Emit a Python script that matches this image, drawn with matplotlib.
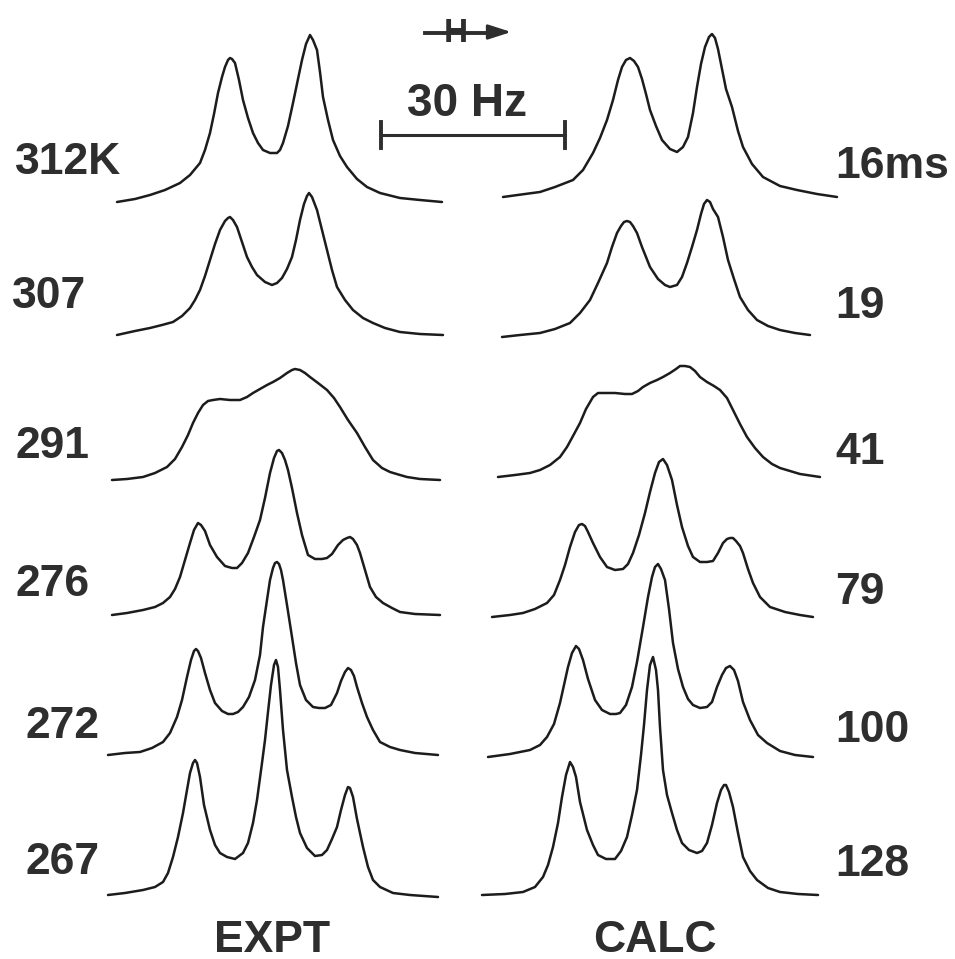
import numpy as np
import matplotlib
matplotlib.use('Agg')
import matplotlib.pyplot as plt

plt.rcParams['font.family'] = ['Liberation Sans', 'DejaVu Sans']

# labels for each trace (top to bottom)
expt_labels = ['312K', '307', '291', '276', '272', '267']
calc_labels = ['16ms', '19', '41', '79', '100', '128']

# traces: shift (arbitrary units, left to right) and intensity above baseline
expt_shift = [
    [7, 25, 40, 55, 70, 80, 90, 95, 100, 104, 108, 112, 115, 118, 120, 122, 125, 129, 133, 138, 143, 148, 153, 160, 167, 170, 173, 178, 183, 188, 192, 196, 200, 203, 207, 210, 213, 218, 223, 230, 237, 247, 257, 270, 290, 310, 332],
    [7, 25, 40, 52, 63, 72, 80, 85, 90, 95, 100, 105, 110, 115, 118, 120, 123, 127, 132, 137, 142, 147, 155, 162, 167, 172, 177, 182, 186, 190, 194, 197, 199, 202, 207, 212, 217, 222, 227, 235, 243, 253, 263, 275, 290, 310, 333],
    [2, 17, 33, 45, 57, 65, 72, 78, 83, 88, 93, 98, 103, 110, 120, 130, 137, 143, 150, 157, 163, 170, 177, 182, 185, 190, 195, 200, 208, 217, 224, 230, 238, 247, 255, 263, 272, 280, 290, 297, 310, 330],
    [2, 17, 33, 45, 53, 60, 65, 70, 75, 80, 84, 88, 91, 95, 100, 107, 115, 122, 127, 132, 138, 144, 150, 155, 160, 164, 167, 169, 172, 175, 178, 182, 187, 192, 198, 205, 212, 217, 222, 228, 233, 237, 240, 243, 247, 250, 255, 260, 266, 273, 282, 290, 305, 330],
    [-2, 15, 30, 42, 53, 60, 67, 72, 77, 81, 84, 86, 88, 91, 95, 100, 105, 112, 118, 123, 128, 133, 139, 145, 150, 153, 157, 160, 163, 165, 167, 169, 171, 173, 177, 182, 186, 190, 196, 203, 209, 215, 221, 227, 231, 235, 238, 241, 244, 247, 252, 257, 263, 270, 280, 290, 305, 328],
    [-2, 15, 33, 45, 53, 58, 63, 68, 73, 77, 80, 83, 85, 87, 90, 94, 100, 105, 110, 117, 125, 133, 138, 143, 147, 152, 155, 158, 161, 164, 166, 168, 170, 173, 177, 182, 186, 190, 197, 205, 212, 217, 222, 227, 231, 235, 238, 240, 243, 247, 253, 258, 263, 270, 283, 300, 328],
]
expt_int = [
    [0, 3, 7, 12, 19, 27, 39, 52, 69, 88, 109, 125, 135, 142, 144, 143, 139, 122, 102, 84, 69, 59, 52, 49, 49, 52, 59, 76, 99, 123, 142, 158, 167, 162, 152, 130, 105, 82, 62, 46, 35, 23, 15, 9, 4, 2, 0],
    [0, 4, 7, 10, 13, 19, 27, 35, 45, 59, 75, 91, 105, 114, 117, 118, 115, 108, 93, 78, 68, 60, 53, 50, 52, 57, 66, 78, 95, 115, 131, 139, 142, 138, 125, 105, 85, 65, 48, 35, 25, 17, 12, 7, 3, 1, 0],
    [0, 1, 3, 7, 13, 21, 33, 45, 57, 67, 75, 79, 80, 81, 80, 80, 83, 87, 91, 95, 98, 102, 107, 110, 111, 110, 107, 103, 97, 90, 82, 73, 60, 47, 33, 20, 12, 8, 5, 3, 1, 0],
    [0, 2, 5, 8, 12, 18, 26, 38, 55, 72, 85, 92, 90, 84, 70, 58, 49, 47, 47, 52, 62, 78, 95, 117, 142, 157, 164, 165, 162, 155, 145, 127, 102, 80, 60, 56, 56, 57, 61, 70, 75, 77, 78, 76, 70, 62, 45, 28, 18, 12, 7, 3, 1, 0],
    [0, 2, 3, 7, 13, 22, 38, 55, 78, 95, 104, 106, 104, 97, 82, 65, 52, 44, 41, 41, 43, 48, 58, 75, 100, 128, 155, 175, 187, 192, 193, 191, 185, 175, 150, 118, 92, 70, 55, 48, 47, 47, 50, 62, 74, 83, 87, 85, 79, 68, 52, 38, 25, 13, 8, 5, 2, 0],
    [0, 2, 5, 8, 13, 22, 38, 58, 82, 105, 122, 132, 135, 132, 118, 90, 65, 50, 42, 38, 36, 42, 52, 72, 95, 132, 155, 183, 210, 230, 235, 228, 205, 165, 125, 98, 78, 62, 47, 39, 40, 45, 56, 68, 85, 100, 108, 107, 98, 76, 48, 28, 15, 8, 2, 0, -2],
]
calc_shift = [
    [23, 45, 60, 75, 93, 103, 113, 120, 127, 133, 138, 142, 146, 150, 154, 158, 162, 166, 170, 176, 182, 190, 197, 203, 208, 213, 217, 221, 225, 229, 232, 235, 238, 242, 246, 252, 258, 263, 272, 283, 300, 317, 337, 357],
    [22, 40, 60, 75, 90, 100, 110, 118, 127, 132, 137, 141, 144, 147, 150, 153, 157, 162, 170, 178, 185, 190, 197, 202, 207, 212, 217, 221, 224, 227, 230, 233, 238, 243, 248, 254, 260, 268, 277, 288, 300, 315, 330],
    [18, 35, 50, 60, 70, 80, 87, 93, 100, 106, 113, 118, 125, 135, 145, 152, 158, 163, 170, 177, 183, 190, 196, 200, 205, 210, 215, 220, 227, 234, 240, 247, 253, 260, 267, 275, 283, 292, 300, 320, 340],
    [12, 30, 43, 55, 67, 74, 80, 85, 90, 95, 99, 102, 105, 108, 113, 120, 127, 135, 143, 148, 153, 159, 165, 170, 175, 179, 183, 187, 192, 197, 202, 208, 213, 220, 227, 233, 238, 243, 247, 250, 253, 256, 260, 263, 268, 273, 280, 290, 305, 320, 333],
    [8, 30, 50, 60, 67, 74, 80, 84, 88, 92, 96, 99, 103, 108, 115, 122, 130, 136, 140, 146, 152, 157, 163, 168, 172, 175, 178, 181, 185, 189, 193, 198, 203, 208, 213, 220, 227, 232, 237, 242, 246, 250, 254, 258, 263, 270, 278, 287, 300, 315, 333],
    [2, 25, 43, 55, 63, 68, 73, 78, 82, 86, 90, 93, 96, 100, 107, 113, 118, 126, 135, 141, 147, 152, 157, 161, 164, 167, 170, 173, 176, 178, 180, 183, 187, 192, 197, 202, 209, 217, 222, 227, 232, 237, 241, 244, 246, 249, 253, 258, 263, 270, 277, 288, 300, 318, 338],
]
calc_int = [
    [0, 3, 5, 10, 17, 27, 44, 59, 77, 97, 117, 130, 137, 139, 136, 130, 118, 103, 87, 71, 57, 48, 45, 50, 60, 84, 110, 133, 150, 160, 163, 159, 148, 128, 108, 90, 66, 50, 33, 20, 11, 7, 3, 0],
    [0, 2, 4, 8, 14, 24, 37, 54, 74, 90, 104, 111, 115, 116, 115, 111, 104, 90, 70, 58, 52, 50, 52, 60, 74, 90, 107, 123, 133, 137, 135, 128, 120, 100, 77, 58, 40, 27, 17, 11, 7, 4, 2],
    [0, 2, 4, 7, 12, 20, 30, 41, 54, 68, 80, 84, 84, 84, 83, 83, 86, 90, 94, 97, 100, 104, 108, 111, 111, 110, 106, 100, 95, 91, 87, 79, 67, 53, 40, 29, 20, 13, 9, 3, 0],
    [0, 2, 4, 8, 14, 22, 37, 52, 70, 85, 92, 93, 91, 85, 74, 60, 50, 47, 48, 53, 64, 82, 104, 125, 144, 155, 158, 152, 137, 112, 90, 71, 60, 55, 55, 56, 64, 74, 78, 79, 79, 76, 71, 64, 48, 34, 20, 10, 5, 2, 0],
    [0, 3, 7, 12, 20, 33, 54, 72, 90, 104, 111, 108, 97, 78, 57, 47, 43, 43, 44, 52, 70, 95, 130, 160, 180, 190, 193, 188, 177, 148, 114, 88, 70, 58, 52, 49, 50, 55, 70, 82, 89, 91, 87, 76, 55, 37, 22, 14, 6, 2, 0],
    [0, 1, 3, 8, 18, 30, 48, 72, 98, 120, 133, 128, 118, 93, 65, 50, 40, 36, 36, 44, 58, 80, 105, 140, 170, 205, 230, 238, 225, 205, 168, 125, 100, 82, 65, 52, 45, 42, 44, 52, 70, 92, 105, 110, 110, 103, 88, 62, 38, 24, 15, 7, 3, 1, 0],
]

# layout (figure pixels)
expt_x0 = 110
calc_x0 = 480
expt_base = [202, 335, 480, 615, 755, 895]
calc_base = [197, 337, 477, 617, 757, 895]
expt_lab_x = [15, 12, 15, 15, 25, 25]
expt_lab_y = [163, 297, 447, 585, 727, 863]
calc_lab_y = [167, 307, 452, 592, 730, 865]

line_col = '#1c1c1c'
txt_col = '#2e2e2e'

fig = plt.figure(figsize=(9.55, 9.59), dpi=100)
ax = fig.add_axes([0, 0, 1, 1])
ax.set_xlim(0, 955)
ax.set_ylim(959, 0)
ax.axis('off')

for i in range(6):
    x = expt_x0 + np.array(expt_shift[i])
    y = expt_base[i] - np.array(expt_int[i])
    ax.plot(x, y, color=line_col, lw=1.8, solid_joinstyle='round', solid_capstyle='round')
    x = calc_x0 + np.array(calc_shift[i])
    y = calc_base[i] - np.array(calc_int[i])
    ax.plot(x, y, color=line_col, lw=1.8, solid_joinstyle='round', solid_capstyle='round')

fs = 32
for i in range(6):
    ax.text(expt_lab_x[i], expt_lab_y[i], expt_labels[i], fontsize=fs, fontweight='bold',
            color=txt_col, ha='left', va='center')
    ax.text(835, calc_lab_y[i], calc_labels[i], fontsize=fs, fontweight='bold',
            color=txt_col, ha='left', va='center')

ax.text(272, 940, 'EXPT', fontsize=fs, fontweight='bold', color=txt_col, ha='center', va='center')
ax.text(655, 940, 'CALC', fontsize=fs, fontweight='bold', color=txt_col, ha='center', va='center')

# 30 Hz scale bar
ax.plot([381, 565], [135, 135], color=txt_col, lw=2.2)
ax.plot([381, 381], [122, 148], color=txt_col, lw=2.8)
ax.plot([565, 565], [122, 148], color=txt_col, lw=2.8)
ax.text(467, 104, '30 Hz', fontsize=33, fontweight='bold', color=txt_col, ha='center', va='center')

# field direction arrow
ax.plot([425, 490], [33, 33], color=txt_col, lw=2.8)
ax.text(456, 34, 'H', fontsize=24, fontweight='bold', color=txt_col, ha='center', va='center')
ax.annotate('', xy=(514, 32), xytext=(484, 32),
            arrowprops=dict(arrowstyle='-|>,head_length=1.4,head_width=0.45', color=txt_col, lw=2))

fig.savefig('out.png', dpi=100, facecolor='white')
